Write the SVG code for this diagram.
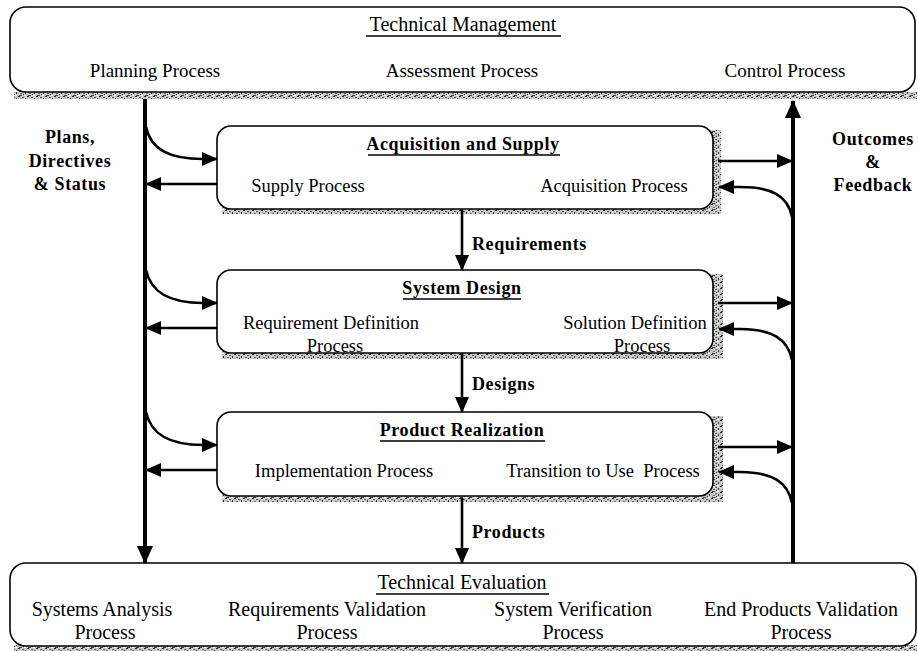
<svg xmlns="http://www.w3.org/2000/svg" width="918" height="651" viewBox="0 0 918 651">
<defs>
<style>
.box{fill:#fff;stroke:#000;stroke-width:1.6}
.t{font-family:"Liberation Serif","Times New Roman",serif;font-size:18.5px;fill:#000;text-anchor:middle}
.tb{font-family:"Liberation Serif","Times New Roman",serif;font-size:18px;font-weight:bold;fill:#000;text-anchor:middle;letter-spacing:0.6px}
.tl{font-family:"Liberation Serif","Times New Roman",serif;font-size:18px;font-weight:bold;fill:#000;letter-spacing:0.6px}
.big{font-size:19px}
.bg{font-size:20px}
.ul{stroke:#000;stroke-width:1.3}
.ln{fill:none;stroke:#000;stroke-width:2.6}
.vl{fill:none;stroke:#000;stroke-width:4}
.sh{fill:url(#dither)}
</style>
<pattern id="dither" width="9" height="6" patternUnits="userSpaceOnUse">
<rect width="9" height="6" fill="#c8c8c8"/>
<rect x="0" y="0" width="2" height="1" fill="#222"/>
<rect x="4" y="1" width="2" height="1" fill="#555"/>
<rect x="7" y="2" width="1" height="2" fill="#333"/>
<rect x="2" y="3" width="2" height="1" fill="#666"/>
<rect x="5" y="4" width="1" height="1" fill="#222"/>
<rect x="1" y="5" width="3" height="1" fill="#444"/>
<rect x="6" y="5" width="2" height="1" fill="#fff"/>
<rect x="3" y="1" width="1" height="1" fill="#fff"/>
</pattern>
<marker id="ah" markerUnits="userSpaceOnUse" markerWidth="16" markerHeight="14" refX="15" refY="7" orient="auto">
<path d="M0,0 L16,7 L0,14 z" fill="#000"/>
</marker>
<marker id="ahb" markerUnits="userSpaceOnUse" markerWidth="18" markerHeight="18" refX="17" refY="8" orient="auto">
<path d="M0,0 L18,8 L0,16 z" fill="#000"/>
</marker>
</defs>
<rect width="918" height="651" fill="#fff"/>

<g id="technical-management">
<rect class="sh" x="14" y="92" width="903" height="7"/>
<rect class="box" x="10" y="7" width="905" height="85" rx="16"/>
<text class="t bg" x="463" y="31">Technical Management</text>
<line class="ul" x1="366" y1="36" x2="561" y2="36"/>
<text class="t big" x="155" y="77">Planning Process</text>
<text class="t big" x="462" y="77">Assessment Process</text>
<text class="t big" x="785" y="77">Control Process</text>
</g>

<g id="acquisition-supply">
<rect class="sh" x="222" y="130" width="499" height="84"/>
<rect class="box" x="217" y="126" width="496" height="83" rx="14"/>
<text class="tb" x="463" y="150">Acquisition and Supply</text>
<line class="ul" x1="368" y1="155" x2="560" y2="155"/>
<text class="t" x="308" y="192">Supply Process</text>
<text class="t" x="614" y="192">Acquisition Process</text>
</g>

<g id="system-design">
<rect class="sh" x="222" y="274" width="501" height="85"/>
<rect class="box" x="217" y="270" width="496" height="83" rx="14"/>
<text class="tb" x="462" y="294">System Design</text>
<line class="ul" x1="403" y1="299" x2="521" y2="299"/>
<text class="t" x="331" y="329">Requirement Definition</text>
<text class="t" x="335" y="352">Process</text>
<text class="t" x="635" y="329">Solution Definition</text>
<text class="t" x="642" y="352">Process</text>
</g>

<g id="product-realization">
<rect class="sh" x="222" y="416" width="501" height="86"/>
<rect class="box" x="217" y="412" width="496" height="84" rx="14"/>
<text class="tb" x="462" y="436">Product Realization</text>
<line class="ul" x1="380" y1="441" x2="545" y2="441"/>
<text class="t" x="344" y="477">Implementation Process</text>
<text class="t" x="603" y="477" xml:space="preserve">Transition to Use  Process</text>
</g>

<g id="technical-evaluation">
<rect class="sh" x="14" y="645" width="903" height="6"/>
<rect class="box" x="10" y="563" width="906" height="83" rx="16"/>
<text class="t bg" x="462" y="589">Technical Evaluation</text>
<line class="ul" x1="376" y1="594" x2="549" y2="594"/>
<text class="t bg" x="102" y="616">Systems Analysis</text>
<text class="t bg" x="105" y="639">Process</text>
<text class="t bg" x="327" y="616">Requirements Validation</text>
<text class="t bg" x="327" y="639">Process</text>
<text class="t bg" x="573" y="616">System Verification</text>
<text class="t bg" x="573" y="639">Process</text>
<text class="t bg" x="801" y="616">End Products Validation</text>
<text class="t bg" x="801" y="639">Process</text>
</g>

<g id="connectors">
<path class="vl" d="M145,99 L145,563" marker-end="url(#ahb)"/>
<path class="vl" d="M793,563 L793,101" marker-end="url(#ahb)"/>

<path class="ln" d="M146,127 C151,150 170,159 203,159 L217,159" marker-end="url(#ah)"/>
<path class="ln" d="M217,184 L146,184" marker-end="url(#ah)"/>
<path class="ln" d="M718,161 L792,161" marker-end="url(#ah)"/>
<path class="ln" d="M792,217 C788,196 772,187 740,187 L719,187" marker-end="url(#ah)"/>

<path class="ln" d="M146,270 C151,293 170,303 203,303 L217,303" marker-end="url(#ah)"/>
<path class="ln" d="M217,328 L146,328" marker-end="url(#ah)"/>
<path class="ln" d="M718,303 L792,303" marker-end="url(#ah)"/>
<path class="ln" d="M792,360 C788,339 772,329 740,329 L719,329" marker-end="url(#ah)"/>

<path class="ln" d="M146,412 C151,435 170,445 203,445 L217,445" marker-end="url(#ah)"/>
<path class="ln" d="M217,470 L146,470" marker-end="url(#ah)"/>
<path class="ln" d="M718,447 L792,447" marker-end="url(#ah)"/>
<path class="ln" d="M792,503 C788,482 772,472 740,472 L719,472" marker-end="url(#ah)"/>

<path class="ln" d="M462,210 L462,270" marker-end="url(#ah)"/>
<path class="ln" d="M462,354 L462,412" marker-end="url(#ah)"/>
<path class="ln" d="M462,498 L462,563" marker-end="url(#ah)"/>
</g>

<g id="labels">
<text class="tb" x="70" y="143">Plans,</text>
<text class="tb" x="70" y="167">Directives</text>
<text class="tb" x="70" y="190">&amp; Status</text>
<text class="tb" x="873" y="145">Outcomes</text>
<text class="tb" x="873" y="168">&amp;</text>
<text class="tb" x="873" y="191">Feedback</text>
<text class="tl" x="472" y="250">Requirements</text>
<text class="tl" x="472" y="390">Designs</text>
<text class="tl" x="472" y="538">Products</text>
</g>
</svg>
